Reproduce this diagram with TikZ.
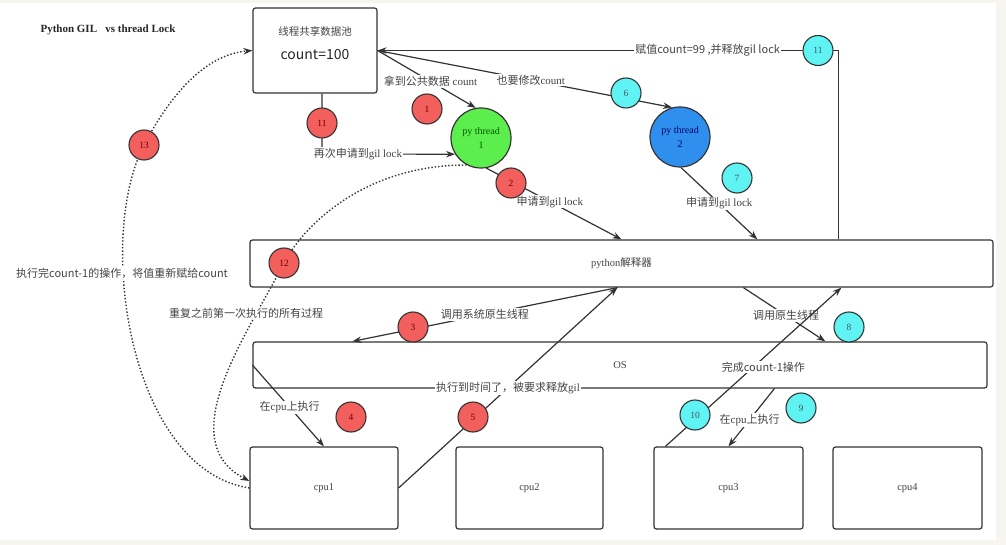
\documentclass[tikz,border=0pt]{standalone}
\usepackage{fontspec}
\setmainfont{Liberation Serif}
\newfontfamily\cjk{Noto Sans CJK SC}
\usetikzlibrary{positioning,calc,arrows.meta}
\definecolor{markred}{HTML}{F25F5C}
\definecolor{markcyan}{HTML}{5FF3F3}
\definecolor{thgreen}{HTML}{5CEE4C}
\definecolor{thblue}{HTML}{2F8FEE}
\definecolor{edge}{HTML}{333333}
\definecolor{txt}{HTML}{444444}
\definecolor{frame}{HTML}{F6F5EF}
\tikzset{
  panel/.style    = {draw=edge,line width=1.2pt,rounded corners=2.5pt,fill=white,inner sep=0pt,
                     text=txt,font=\fontsize{10.5}{12}\selectfont},
  thread/.style   = {circle,draw=edge,line width=1.2pt,minimum size=60pt,inner sep=0pt,
                     align=center,font=\fontsize{10}{14}\selectfont},
  redmark/.style  = {circle,draw=edge,line width=1.1pt,fill=markred,minimum size=30pt,
                     inner sep=0pt,text=red!45!black,font=\fontsize{9.5}{10}\selectfont},
  cyanmark/.style = {redmark,fill=markcyan,text=cyan!30!black},
  lbl/.style      = {fill=white,inner sep=1pt,text=txt,font=\fontsize{11}{12}\selectfont},
  slbl/.style     = {lbl,font=\cjk\fontsize{11}{12}\selectfont},
  conn/.style     = {draw=edge,line width=1.2pt,->},
  dots/.style     = {draw=edge,line width=1.4pt,dotted},
  >={Stealth[length=9pt,width=6.5pt]}
}
\newcommand{\StepMark}[4]{%
  % numbered step circle on top of the connectors
  \node[#2] (#1) at #3 {#4};
}

\begin{document}
\begin{tikzpicture}[x=1pt,y=-1pt]
    \useasboundingbox (0,0) rectangle (1006,545);
    \fill[frame] (0,0) rectangle (1006,545);
    \fill[white] (0,3) rectangle (996,540);

    \node[font=\bfseries\fontsize{11}{12}\selectfont,text=black!85] (title) at (108,30)
    {Python GIL\ \ \ vs thread Lock};

    % shared data pool
    \node[panel,minimum width=124pt,minimum height=85pt] (pool) at (315,50.5) {};
    \node[font=\cjk\fontsize{10.5}{11}\selectfont,text=txt] (pooltitle) at (315,31) {线程共享数据池};
    \node[font=\cjk\fontsize{14}{15}\selectfont,text=black!85] (poolcount) at (315,55) {count=100};

    % the two python threads
    \node[thread,fill=thgreen,text=green!35!black] (th1) at (481,138) {py thread\\1};
    \node[thread,fill=thblue,text=blue!40!black] (th2) at (680,137) {py thread\\2};

    % interpreter, OS and cpus
    \node[panel,minimum width=743pt,minimum height=47pt] (interp) at (621.5,263.5) {python{\cjk 解释器}};
    \node[panel,minimum width=734pt,minimum height=46pt] (os) at (620,365) {OS};
    \node[panel,minimum width=148pt,minimum height=82pt] (cpu1) at (324,488) {cpu1};
    \node[panel,minimum width=147pt,minimum height=82pt] (cpu2) at (529.5,488) {cpu2};
    \node[panel,minimum width=149pt,minimum height=82pt] (cpu3) at (728.5,488) {cpu3};
    \node[panel,minimum width=149pt,minimum height=82pt] (cpu4) at (907.5,488) {cpu4};

    % pool -> threads
    \draw[conn] (pool.east) -- node[lbl,pos=0.54] {{\cjk 拿到公共数据} count} (th1.100);
    \draw[conn] (pool.east) -- node[lbl,pos=0.52] {{\cjk 也要修改}count} (th2.105);

    % write back to the pool
    \coordinate (back) at (838.5,50.5);
    \draw[conn] (interp.north -| back) -- (back)
      -- node[slbl,pos=0.284] {赋值count=99 ,并释放gil lock} (pool.east);

    % thread 1 asks again
    \coordinate (again) at (322,154);
    \draw[conn] (pool.south -| again) -- (again)
      -- node[lbl,pos=0.27] {{\cjk 再次申请到}gil lock} (th1.212);

    % threads -> interpreter
    \draw[conn] (th1.280) -- node[lbl,pos=0.47] {{\cjk 申请到}gil lock} (interp.north);
    \draw[conn] (th2.272) -- node[lbl,pos=0.5] {{\cjk 申请到}gil lock} ($(interp.north west)+(508,0)$);

    % interpreter -> OS
    \draw[conn] ($(interp.south west)+(368,0)$) -- node[lbl,pos=0.5] {\cjk 调用系统原生线程} ($(os.north west)+(100,0)$);
    \draw[conn] ($(interp.south west)+(494,0)$) -- node[lbl,pos=0.52] {\cjk 调用原生线程} ($(os.north west)+(573,0)$);

    % OS -> cpus
    \draw[conn] (os.west) -- node[lbl,pos=0.52] {{\cjk 在}cpu{\cjk 上执行}} (cpu1.north);
    \draw[conn] ($(os.south west)+(522,0)$) -- node[lbl,pos=0.54] {{\cjk 在}cpu{\cjk 上执行}} ($(cpu3.north west)+(75,0)$);

    % cpus -> interpreter
    \draw[conn] (cpu1.east) -- node[lbl,pos=0.5] {{\cjk 执行到时间了，被要求释放}gil} ($(interp.south west)+(368,0)$);
    \draw[conn] ($(cpu3.north west)+(12,0)$) -- node[slbl,pos=0.5,xshift=10pt] {完成count-1操作} ($(interp.south west)+(592,0)$);

    % the repeated cycle
    \draw[dots,->] (cpu1.west) .. controls (130,470) and (95,240) .. (144,145)
      .. controls (165,105) and (200,55) .. (pool.west);
    \draw[dots,->] (th1.242) .. controls (360,165) and (301,230) .. (284,263)
      .. controls (250,330) and (170,440) .. ($(cpu1.west)+(0,-7)$);
    \node[slbl] (writeback) at (122,273) {执行完count-1的操作，将值重新赋给count};
    \node[lbl] (repeat) at (246,313) {\cjk 重复之前第一次执行的所有过程};

    % step numbers
    \StepMark{m1}{redmark}{(427,109)}{1}
    \StepMark{m2}{redmark}{(511,183)}{2}
    \StepMark{m3}{redmark}{(413,327)}{3}
    \StepMark{m4}{redmark}{(351,417)}{4}
    \StepMark{m5}{redmark}{(473,417)}{5}
    \StepMark{m6}{cyanmark}{(626,93)}{6}
    \StepMark{m7}{cyanmark}{(737,178)}{7}
    \StepMark{m8}{cyanmark}{(849,327)}{8}
    \StepMark{m9}{cyanmark}{(801,408)}{9}
    \StepMark{m10}{cyanmark}{(695,415)}{10}
    \StepMark{m11a}{redmark}{(322,123)}{11}
    \StepMark{m11b}{cyanmark}{(818,50.5)}{11}
    \StepMark{m12}{redmark}{(284,263)}{12}
    \StepMark{m13}{redmark}{(144,145)}{13}
\end{tikzpicture}
\end{document}
